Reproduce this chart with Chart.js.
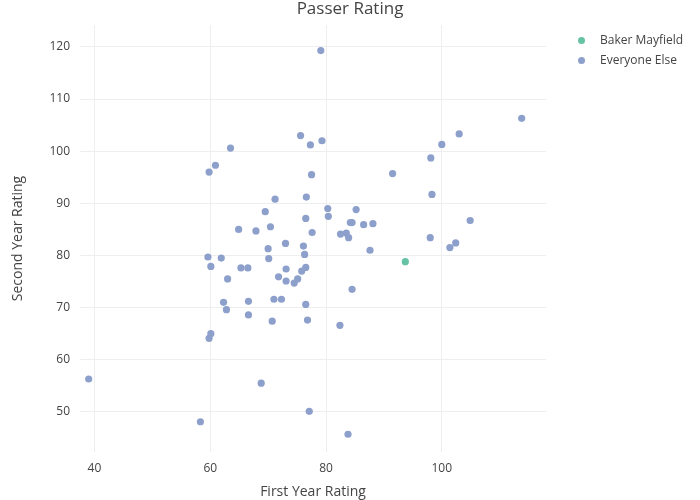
<!DOCTYPE html>
<html>
<head>
<meta charset="utf-8">
<script src="https://cdn.jsdelivr.net/npm/chart.js@4/dist/chart.umd.min.js"></script>
<style>
  body { margin: 0; background: #fff; font-family: "Open Sans", sans-serif; }
  #wrap { position: relative; width: 700px; height: 500px; }
  #title { position: absolute; top: -3px; left: 0; width: 700px; text-align: center;
           font-size: 17px; color: #444; line-height: 22px; }
  #legend { position: absolute; left: 578px; top: 30px; font-size: 12px; color: #444; }
  .item { height: 19.5px; line-height: 19.5px; white-space: nowrap; }
  .dot { display: inline-block; width: 7px; height: 7px; border-radius: 50%;
         margin-right: 15px; vertical-align: 0px; }
</style>
</head>
<body>
<div id="wrap">
  <canvas id="scatterChart" width="700" height="500"></canvas>
  <div id="title">Passer Rating</div>
  <div id="legend"></div>
</div>
<script>
var seriesNames = ['Baker Mayfield', 'Everyone Else'];
var seriesColors = ['#66c2a5', '#8da0cb'];

var bakerFirst = [93.7];
var bakerSecond = [78.8];

var otherFirst = [
  79.1, 75.6, 77.3, 79.3, 63.5, 60.9, 59.8, 77.5, 113.8, 103.0,
  100.0, 98.1, 91.5, 71.2, 76.6, 80.3, 80.4, 85.2, 69.5, 76.5,
  64.9, 67.9, 70.4, 77.6, 84.2, 84.5, 86.5, 88.1, 82.5, 83.5,
  83.9, 73.0, 70.0, 76.1, 76.3, 87.6, 59.6, 61.9, 70.1, 60.1,
  65.3, 66.5, 73.1, 75.8, 76.5, 63.0, 71.8, 73.1, 75.1, 74.5,
  84.5, 62.3, 66.6, 71.0, 72.3, 76.5, 62.8, 66.6, 70.7, 76.8,
  82.4, 60.1, 59.8, 98.3, 104.9, 98.0, 102.4, 101.4, 39.0, 68.8,
  58.3, 77.1, 83.8
];
var otherSecond = [
  119.3, 103.0, 101.2, 102.0, 100.6, 97.3, 96.0, 95.5, 106.3, 103.3,
  101.3, 98.7, 95.7, 90.8, 91.2, 89.0, 87.5, 88.8, 88.4, 87.1,
  85.0, 84.7, 85.5, 84.4, 86.3, 86.3, 85.9, 86.1, 84.1, 84.3,
  83.4, 82.3, 81.3, 81.8, 80.2, 81.0, 79.7, 79.5, 79.4, 77.9,
  77.6, 77.6, 77.4, 77.0, 77.7, 75.5, 75.9, 75.1, 75.5, 74.7,
  73.5, 71.0, 71.2, 71.6, 71.6, 70.6, 69.6, 68.6, 67.4, 67.6,
  66.6, 65.0, 64.1, 91.7, 86.7, 83.4, 82.4, 81.5, 56.3, 55.5,
  48.1, 50.1, 45.7
];

var xTicks = [40, 60, 80, 100];
var yTicks = [50, 60, 70, 80, 90, 100, 110, 120];

function toPoints(xs, ys) {
  return xs.map(function(x, i) { return { x: x, y: ys[i] }; });
}

var legend = document.getElementById('legend');
seriesNames.forEach(function(name, i) {
  var row = document.createElement('div');
  row.className = 'item';
  row.innerHTML = '<span class="dot" style="background:' + seriesColors[i] + '"></span>' + name;
  legend.appendChild(row);
});

var textColor = '#444';
var gridColor = '#eeeeee';

var ctx = document.getElementById('scatterChart').getContext('2d');
var scatterChart = new Chart(ctx, {
  type: 'scatter',
  data: {
    datasets: [{
      label: seriesNames[0],
      data: toPoints(bakerFirst, bakerSecond),
      backgroundColor: seriesColors[0],
      borderWidth: 0,
      pointRadius: 3.6
    }, {
      label: seriesNames[1],
      data: toPoints(otherFirst, otherSecond),
      backgroundColor: seriesColors[1],
      borderWidth: 0,
      pointRadius: 3.6
    }]
  },
  options: {
    responsive: false,
    animation: false,
    layout: { padding: { top: 25, right: 154, left: 0, bottom: 0 } },
    plugins: {
      legend: { display: false },
      tooltip: { enabled: false }
    },
    scales: {
      x: {
        type: 'linear',
        min: 37.5,
        max: 118,
        afterFit: function(scale) { scale.height = 48; },
        afterBuildTicks: function(scale) {
          scale.ticks = xTicks.map(function(v) { return { value: v }; });
        },
        grid: { color: gridColor, drawTicks: false },
        border: { display: false },
        ticks: { padding: 9, color: textColor, font: { family: 'Open Sans', size: 12 } },
        title: {
          display: true,
          text: 'First Year Rating',
          color: textColor,
          font: { family: 'Open Sans', size: 14 },
          padding: { top: 0, bottom: 0 }
        }
      },
      y: {
        type: 'linear',
        min: 42.3,
        max: 124.2,
        afterFit: function(scale) { scale.width = 80; },
        afterBuildTicks: function(scale) {
          scale.ticks = yTicks.map(function(v) { return { value: v }; });
        },
        grid: { color: gridColor, drawTicks: false },
        border: { display: false },
        ticks: { padding: 10, color: textColor, font: { family: 'Open Sans', size: 12 } },
        title: {
          display: true,
          text: 'Second Year Rating',
          color: textColor,
          font: { family: 'Open Sans', size: 14 },
          padding: { top: 10, bottom: 0 }
        }
      }
    }
  }
});
</script>
</body>
</html>
